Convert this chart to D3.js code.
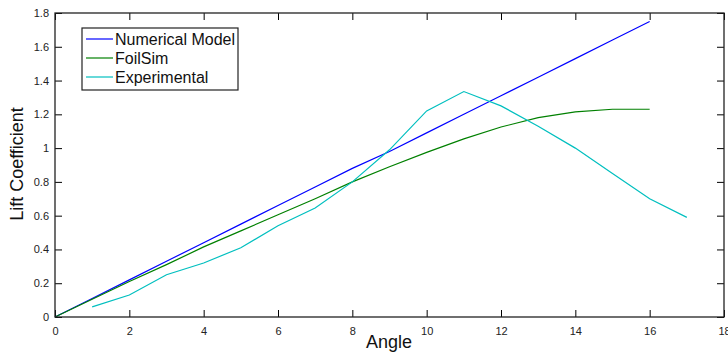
<!DOCTYPE html>
<html>
<head>
<meta charset="utf-8">
<script src="https://cdn.jsdelivr.net/npm/d3@7"></script>
<style>
  body { margin: 0; background: #fff; }
  svg { display: block; font-family: "Liberation Sans", Arial, sans-serif; }
</style>
</head>
<body>
<svg id="chart"></svg>
<script>
const angles = [0, 1, 2, 3, 4, 5, 6, 7, 8, 9, 10, 11, 12, 13, 14, 15, 16];
const numericalModel = [0, 0.11, 0.22, 0.33, 0.44, 0.55, 0.66, 0.77, 0.88, 0.98, 1.09, 1.20, 1.31, 1.42, 1.53, 1.64, 1.75];
const foilSim = [0, 0.105, 0.21, 0.31, 0.415, 0.51, 0.605, 0.70, 0.80, 0.89, 0.975, 1.055, 1.125, 1.18, 1.215, 1.23, 1.23];
const expAngles = [1, 2, 3, 4, 5, 6, 7, 8, 9, 10, 11, 12, 13, 14, 15, 16, 17];
const experimental = [0.06, 0.13, 0.25, 0.32, 0.41, 0.54, 0.645, 0.80, 0.99, 1.22, 1.335, 1.25, 1.13, 1.0, 0.85, 0.70, 0.59];
const xTicks = [0, 2, 4, 6, 8, 10, 12, 14, 16, 18];
const yTicks = [0, 0.2, 0.4, 0.6, 0.8, 1, 1.2, 1.4, 1.6, 1.8];

const width = 728, height = 353;
const margin = { left: 55, right: 4, top: 13, bottom: 36 };

const series = [
  { name: "Numerical Model", xs: angles, ys: numericalModel, color: "#0000ff" },
  { name: "FoilSim", xs: angles, ys: foilSim, color: "#008000" },
  { name: "Experimental", xs: expAngles, ys: experimental, color: "#00bfbf" },
];

const svg = d3.select("#chart").attr("width", width).attr("height", height);

const x = d3.scaleLinear().domain([0, 18]).range([margin.left, width - margin.right]);
const y = d3.scaleLinear().domain([0, 1.8]).range([height - margin.bottom, margin.top]);

const fmt = (d) => (d === 0 ? "0" : String(+d.toFixed(1)));

// bottom axis, ticks point inward like matlab
svg.append("g")
  .attr("transform", `translate(0,${y(0)})`)
  .call(d3.axisBottom(x).tickValues(xTicks).tickSize(-7).tickPadding(10).tickFormat(fmt))
  .call((g) => g.select(".domain").remove())
  .call((g) => g.selectAll("text").attr("font-size", 11).attr("fill", "#222"));

// left axis
svg.append("g")
  .attr("transform", `translate(${x(0)},0)`)
  .call(d3.axisLeft(y).tickValues(yTicks).tickSize(-7).tickPadding(6).tickFormat(fmt))
  .call((g) => g.select(".domain").remove())
  .call((g) => g.selectAll("text").attr("font-size", 11).attr("fill", "#222"));

// top and right ticks
svg.append("g")
  .attr("transform", `translate(0,${y(1.8)})`)
  .call(d3.axisTop(x).tickValues(xTicks).tickSize(-7).tickFormat(""))
  .call((g) => g.select(".domain").remove());

svg.append("g")
  .attr("transform", `translate(${x(18)},0)`)
  .call(d3.axisRight(y).tickValues(yTicks).tickSize(-7).tickFormat(""))
  .call((g) => g.select(".domain").remove());

// lines
const line = d3.line().x((d) => x(d[0])).y((d) => y(d[1]));
svg.append("g")
  .selectAll("path")
  .data(series)
  .join("path")
  .attr("fill", "none")
  .attr("stroke", (d) => d.color)
  .attr("stroke-width", 1.2)
  .attr("d", (d) => line(d.xs.map((v, i) => [v, d.ys[i]])));

// box
svg.append("rect")
  .attr("x", x(0)).attr("y", y(1.8))
  .attr("width", x(18) - x(0)).attr("height", y(0) - y(1.8))
  .attr("fill", "none").attr("stroke", "#222").attr("stroke-width", 1.3);

// axis labels
svg.append("text")
  .attr("x", 389).attr("y", 348)
  .attr("text-anchor", "middle").attr("font-size", 18).attr("fill", "#111")
  .text("Angle");

svg.append("text")
  .attr("transform", `translate(23,164) rotate(-90)`)
  .attr("text-anchor", "middle").attr("font-size", 18).attr("fill", "#111")
  .text("Lift Coefficient");

// legend
const legend = svg.append("g").attr("transform", "translate(82,28)");
legend.append("rect")
  .attr("width", 156).attr("height", 62)
  .attr("fill", "#fff").attr("stroke", "#222").attr("stroke-width", 1.2);
const items = legend.selectAll("g.item")
  .data(series)
  .join("g")
  .attr("class", "item")
  .attr("transform", (d, i) => `translate(0,${11 + i * 19})`);
items.append("line")
  .attr("x1", 4).attr("x2", 31)
  .attr("stroke", (d) => d.color).attr("stroke-width", 1.2);
items.append("text")
  .attr("x", 33).attr("dy", "0.35em")
  .attr("font-size", 16).attr("fill", "#111")
  .text((d) => d.name);
</script>
</body>
</html>
